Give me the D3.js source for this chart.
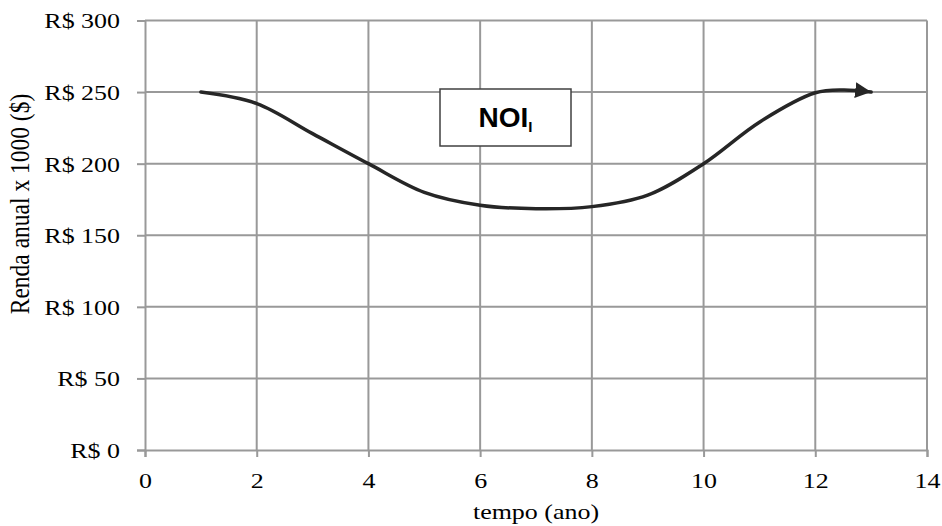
<!DOCTYPE html>
<html>
<head>
<meta charset="utf-8">
<script src="https://cdn.jsdelivr.net/npm/d3@7"></script>
<style>
  body { margin: 0; background: #fff; }
  svg { display: block; }
</style>
</head>
<body>
<svg width="942" height="526"></svg>
<script>
// data
const years = [1, 2, 3, 4, 5, 6, 7, 8, 9, 10, 11, 12, 12.5, 13];
const noi = [250, 242, 221, 200, 180, 171, 168.5, 170, 178, 200, 229, 249.5, 251.5, 250];
const xTicks = [0, 2, 4, 6, 8, 10, 12, 14];
const yTicks = [0, 50, 100, 150, 200, 250, 300];

const svg = d3.select("svg");
const plotL = 145, plotR = 927, plotT = 20.5, plotB = 450;
const stretch = 1.18; // the reference text is a little wide

const x = d3.scaleLinear().domain([0, 14]).range([plotL, plotR]);
const y = d3.scaleLinear().domain([0, 300]).range([plotB, plotT]);

const serif = "'Liberation Serif', 'Times New Roman', serif";
const grid = "#999";

// grid
svg.append("g").selectAll("line").data(xTicks.slice(1)).join("line")
  .attr("x1", d => x(d)).attr("x2", d => x(d))
  .attr("y1", plotT).attr("y2", plotB)
  .attr("stroke", grid).attr("stroke-width", 2);
svg.append("g").selectAll("line").data(yTicks.slice(1)).join("line")
  .attr("x1", plotL).attr("x2", plotR)
  .attr("y1", d => y(d)).attr("y2", d => y(d))
  .attr("stroke", grid).attr("stroke-width", 2);

// axes
const xAxis = svg.append("g")
  .attr("transform", `translate(0,${plotB})`)
  .call(d3.axisBottom(x).tickValues(xTicks).tickSize(7));
const yAxis = svg.append("g")
  .attr("transform", `translate(${plotL},0)`)
  .call(d3.axisLeft(y).tickValues(yTicks).tickSize(8)
    .tickFormat(d => "R$ " + d));

[xAxis, yAxis].forEach(a => {
  a.select(".domain").attr("stroke", grid).attr("stroke-width", 2);
  a.selectAll(".tick line").attr("stroke", grid).attr("stroke-width", 2);
  a.selectAll(".tick text")
    .attr("fill", "#000")
    .attr("transform", `scale(${stretch},1)`)
    .style("font-family", serif)
    .style("font-size", "22px");
});
xAxis.selectAll(".tick text").attr("dy", "0.71em").attr("y", 22);
yAxis.selectAll(".tick text").attr("dy", "0.34em").attr("x", -25 / stretch);

// axis titles
svg.append("text")
  .attr("transform", `translate(${(plotL + plotR) / 2},519) scale(${stretch},1)`)
  .attr("text-anchor", "middle")
  .style("font-family", serif).style("font-size", "22px")
  .text("tempo (ano)");
svg.append("text")
  .attr("transform", "translate(29,204) rotate(-90) scale(1,1.15)")
  .attr("text-anchor", "middle")
  .style("font-family", serif).style("font-size", "23.5px")
  .text("Renda anual x 1000 ($)");

// arrow head
svg.append("defs").append("marker")
  .attr("id", "arrow")
  .attr("markerUnits", "userSpaceOnUse")
  .attr("viewBox", "0 0 16 16")
  .attr("refX", 16).attr("refY", 8)
  .attr("markerWidth", 16).attr("markerHeight", 16)
  .attr("orient", "auto")
  .append("path")
  .attr("d", "M0,0 L16,8 L0,16 Z")
  .attr("fill", "#262626");

// curve
const line = d3.line()
  .x((d, i) => x(years[i]))
  .y(d => y(d))
  .curve(d3.curveCatmullRom);

svg.append("path")
  .attr("d", line(noi))
  .attr("fill", "none")
  .attr("stroke", "#262626")
  .attr("stroke-width", 3.5)
  .attr("stroke-linecap", "round")
  .attr("marker-end", "url(#arrow)");

// label box
svg.append("rect")
  .attr("x", 440).attr("y", 89)
  .attr("width", 131).attr("height", 57)
  .attr("fill", "#fff")
  .attr("stroke", "#404040").attr("stroke-width", 1.5);

const lbl = svg.append("text")
  .attr("x", 505.5).attr("y", 127)
  .attr("text-anchor", "middle")
  .style("font-family", "'Liberation Sans', Arial, sans-serif")
  .style("font-weight", "bold")
  .style("font-size", "28px");
lbl.append("tspan").text("NOI");
lbl.append("tspan").attr("dy", 5).style("font-size", "15px").text("I");
</script>
</body>
</html>
